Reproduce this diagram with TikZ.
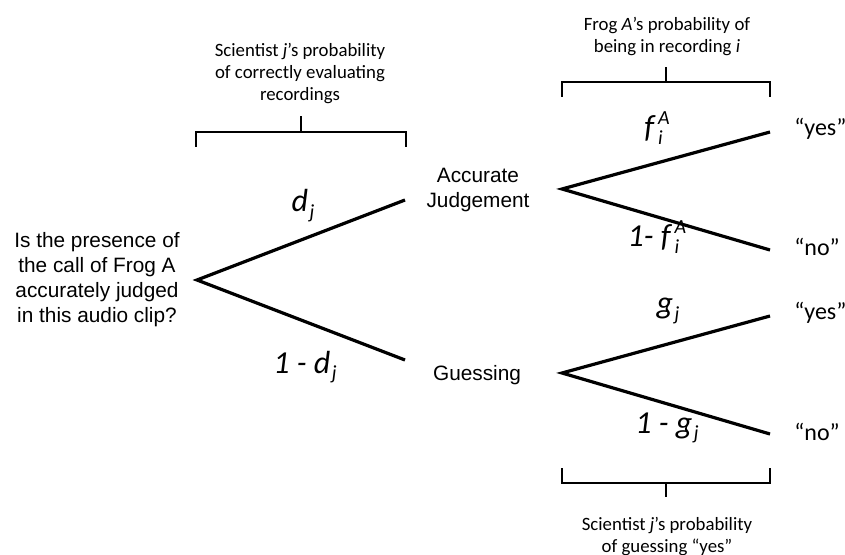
\documentclass[tikz,border=0pt]{standalone}
\usepackage{fontspec}
\setmainfont{Liberation Sans}
\newfontfamily\calib{Carlito}
\newcommand{\psub}[2]{#1\kern0.8pt\raisebox{-0.45ex}{\fontsize{10}{10}\selectfont #2}}
\newcommand{\psubsup}[3]{#1\kern2pt\rlap{\raisebox{-0.45ex}{\fontsize{10}{10}\selectfont #2}}\raisebox{0.85ex}{\fontsize{10}{10}\selectfont #3}}
\begin{document}
\begin{tikzpicture}[x=0.5pt, y=-0.5pt,
    every node/.style={inner sep=0pt},
    branch/.style={line width=1.6pt},
    brace/.style={line width=1pt},
    question/.style={align=center, font=\fontsize{10.4}{12.5}\selectfont},
    note/.style={align=center, font=\calib\fontsize{9.4}{11}\selectfont},
    prob/.style={anchor=base, font=\calib\itshape\fontsize{16}{16}\selectfont},
    answer/.style={anchor=west, font=\calib\fontsize{12}{12}\selectfont}]
  \useasboundingbox (0,0) rectangle (845,555);
  % first split
  \coordinate (root) at (197,280);
  \coordinate (accEnd) at (405,200);
  \coordinate (gssEnd) at (405,360);
  \node[question] (question) at (97,280) {Is the presence of\\the call of Frog A\\accurately judged\\in this audio clip?};
  \draw[branch] (accEnd) -- (root) -- (gssEnd);
  \node[prob] (dj) at (303,212) {\psub{d}{j}};
  \node[prob] (notdj) at (305,373) {1 - \psub{d}{j}};
  \node[question] (accurate) at (478,190) {Accurate\\Judgement};
  \node[question] (guessing) at (477,375) {Guessing};
  % accurate judgement
  \coordinate (accRoot) at (562,189);
  \coordinate (accYes) at (770,132);
  \coordinate (accNo) at (770,250);
  \draw[branch] (accYes) -- (accRoot) -- (accNo);
  \node[prob] (fi) at (657,138) {\psubsup{f}{i}{A}};
  \node[prob] (notfi) at (657,247) {1- \psubsup{f}{i}{A}};
  \node[answer] (yes1) at (794,129) {“yes”};
  \node[answer] (no1) at (794,247) {“no”};
  % guessing
  \coordinate (gssRoot) at (562,373);
  \coordinate (gssYes) at (770,316);
  \coordinate (gssNo) at (770,434);
  \draw[branch] (gssYes) -- (gssRoot) -- (gssNo);
  \node[prob] (gj) at (668,314) {\psub{g}{j}};
  \node[prob] (notgj) at (667,433) {1 - \psub{g}{j}};
  \node[answer] (yes2) at (794,313) {“yes”};
  \node[answer] (no2) at (794,432) {“no”};
  % brackets
  \node[note] (noteD) at (300,73) {Scientist \textit{j}’s probability\\of correctly evaluating\\recordings};
  \draw[brace] (196,147) -- (196,132) -- (406,132) -- (406,147);
  \coordinate (tickD) at (301,132);
  \draw[brace] (tickD) -- ++(0,-16);
  \node[note] (noteF) at (667,36) {Frog \textit{A}’s probability of\\being in recording \textit{i}};
  \draw[brace] (562,97) -- (562,82) -- (770,82) -- (770,97);
  \coordinate (tickF) at (666,82);
  \draw[brace] (tickF) -- ++(0,-15);
  \node[note] (noteG) at (667,536) {Scientist \textit{j}’s probability\\of guessing “yes”};
  \draw[brace] (562,468) -- (562,483) -- (770,483) -- (770,468);
  \coordinate (tickG) at (666,483);
  \draw[brace] (tickG) -- ++(0,14);
\end{tikzpicture}
\end{document}
